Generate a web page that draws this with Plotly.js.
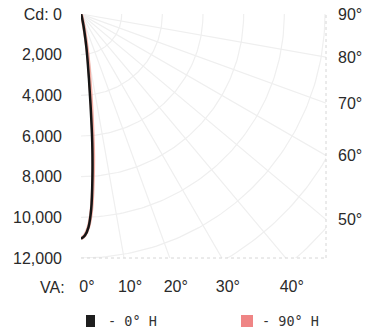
<!DOCTYPE html>
<html>
<head>
<meta charset="utf-8">
<script src="https://cdn.plot.ly/plotly-3.0.1.min.js"></script>
<style>html,body{margin:0;padding:0;background:#fff;}#chart{width:366px;height:334px;}</style>
</head>
<body>
<div id="chart"></div>
<script>
// Vertical angles (deg from nadir) and candela values
const vAngles = [0, 1, 2, 3, 4, 5, 6, 7, 8, 9, 10, 12, 15, 20, 30];
const cd0H  = [11050, 10900, 10500, 9600, 8050, 6350, 4500, 3200, 2350, 1750, 1250, 600, 200, 60, 10];
const cd90H = [11050, 10880, 10480, 9700, 8400, 7000, 5300, 3950, 3000, 2300, 1700, 850, 280, 70, 10];
const seriesNames = ["0° H", "90° H"];

// Axis ticks
const cdTicks = [0, 2000, 4000, 6000, 8000, 10000, 12000];
const cdTickText = ["Cd: 0", "2,000", "4,000", "6,000", "8,000", "10,000", "12,000"];
const rightAngles = [90, 80, 70, 60, 50];
const bottomAngles = [0, 10, 20, 30, 40];
const gridRadii = [2000, 4000, 6000, 8000, 10000, 12000, 14000, 16000, 18000];
const gridAngles = [10, 20, 30, 40, 50, 60, 70, 80];

const X_MAX = 12050, Y_MAX = 12000;
const rad = d => d * Math.PI / 180;

function polarXY(angles, cds) {
  return {
    x: angles.map((a, i) => cds[i] * Math.sin(rad(a))),
    y: angles.map((a, i) => cds[i] * Math.cos(rad(a)))
  };
}

const gridColor = '#efefef';
const traces = [];
// arcs
gridRadii.forEach(r => {
  const xs = [], ys = [];
  for (let a = 0; a <= 90; a += 1) { xs.push(r * Math.sin(rad(a))); ys.push(r * Math.cos(rad(a))); }
  traces.push({x: xs, y: ys, mode: 'lines', line: {color: gridColor, width: 1.2}, hoverinfo: 'skip', showlegend: false});
});
// radials
gridAngles.forEach(a => {
  traces.push({x: [0, 30000 * Math.sin(rad(a))], y: [0, 30000 * Math.cos(rad(a))], mode: 'lines',
    line: {color: gridColor, width: 1.2}, hoverinfo: 'skip', showlegend: false});
});

const p90 = polarXY(vAngles, cd90H);
const p0 = polarXY(vAngles, cd0H);
traces.push({x: p90.x, y: p90.y, mode: 'lines', name: seriesNames[1], line: {color: 'rgba(238,140,125,0.7)', width: 3.5, shape: 'spline'}, showlegend: false});
traces.push({x: p0.x, y: p0.y, mode: 'lines', name: seriesNames[0], line: {color: '#151515', width: 2.5, shape: 'spline'}, showlegend: false});

// dummy trace for right axis
traces.push({x: [0], y: [0], yaxis: 'y2', mode: 'markers', marker: {opacity: 0}, hoverinfo: 'skip', showlegend: false});

const font = {family: 'Liberation Sans, Arial, sans-serif', size: 16, color: '#2a2a2a'};
const mono = {family: 'DejaVu Sans Mono, monospace', size: 13.5, color: '#333'};

const layout = {
  width: 366, height: 334,
  margin: {l: 81, r: 40, t: 14, b: 76},
  paper_bgcolor: '#fff', plot_bgcolor: '#fff',
  font: font,
  showlegend: false,
  xaxis: {range: [0, X_MAX], showgrid: false, zeroline: false, showline: false,
    tickmode: 'array', tickvals: bottomAngles.map(a => Y_MAX * Math.tan(rad(a))),
    ticktext: bottomAngles.map(a => a + '°'), ticks: '', ticklabelstandoff: 17, ticklabelshift: 6,
    tickfont: font, fixedrange: true},
  yaxis: {range: [Y_MAX, 0], showgrid: false, zeroline: false, showline: false,
    tickmode: 'array', tickvals: cdTicks, ticktext: cdTickText, ticks: '', ticklabelstandoff: 18,
    tickfont: font, fixedrange: true},
  yaxis2: {overlaying: 'y', side: 'right', range: [Y_MAX, 0], showgrid: false, zeroline: false, showline: false,
    tickmode: 'array', tickvals: rightAngles.map(a => a === 90 ? 0 : X_MAX / Math.tan(rad(a))),
    ticktext: rightAngles.map(a => a + '°'), ticks: '', ticklabelstandoff: 11, tickfont: font, fixedrange: true},
  shapes: [
    {type: 'line', xref: 'paper', yref: 'paper', x0: 1, x1: 1, y0: 0, y1: 1, line: {color: '#d6d6d6', width: 1, dash: 'dot'}},
    {type: 'line', xref: 'paper', yref: 'paper', x0: 0, x1: 1, y0: 0, y1: 0, line: {color: '#d6d6d6', width: 1, dash: 'dot'}},
    {type: 'rect', xref: 'paper', yref: 'paper', x0: (86 - 81) / 245, x1: (95 - 81) / 245,
      y0: (258 - 327) / 244, y1: (258 - 315) / 244, line: {width: 0}, fillcolor: '#1e1e1e'},
    {type: 'rect', xref: 'paper', yref: 'paper', x0: (241 - 81) / 245, x1: (253 - 81) / 245,
      y0: (258 - 327) / 244, y1: (258 - 315) / 244, line: {width: 0}, fillcolor: '#ef8585'}
  ],
  annotations: [
    {text: 'VA:', xref: 'paper', yref: 'paper', x: (67 - 81) / 245, y: (258 - 287) / 244,
      xanchor: 'right', yanchor: 'middle', showarrow: false, font: font},
    {text: '- ' + seriesNames[0], xref: 'paper', yref: 'paper', x: (106 - 81) / 245, y: (258 - 321) / 244,
      xanchor: 'left', yanchor: 'middle', showarrow: false, font: mono},
    {text: '- ' + seriesNames[1], xref: 'paper', yref: 'paper', x: (260 - 81) / 245, y: (258 - 321) / 244,
      xanchor: 'left', yanchor: 'middle', showarrow: false, font: mono}
  ]
};

Plotly.newPlot('chart', traces, layout, {displayModeBar: false, staticPlot: true});
</script>
</body>
</html>
